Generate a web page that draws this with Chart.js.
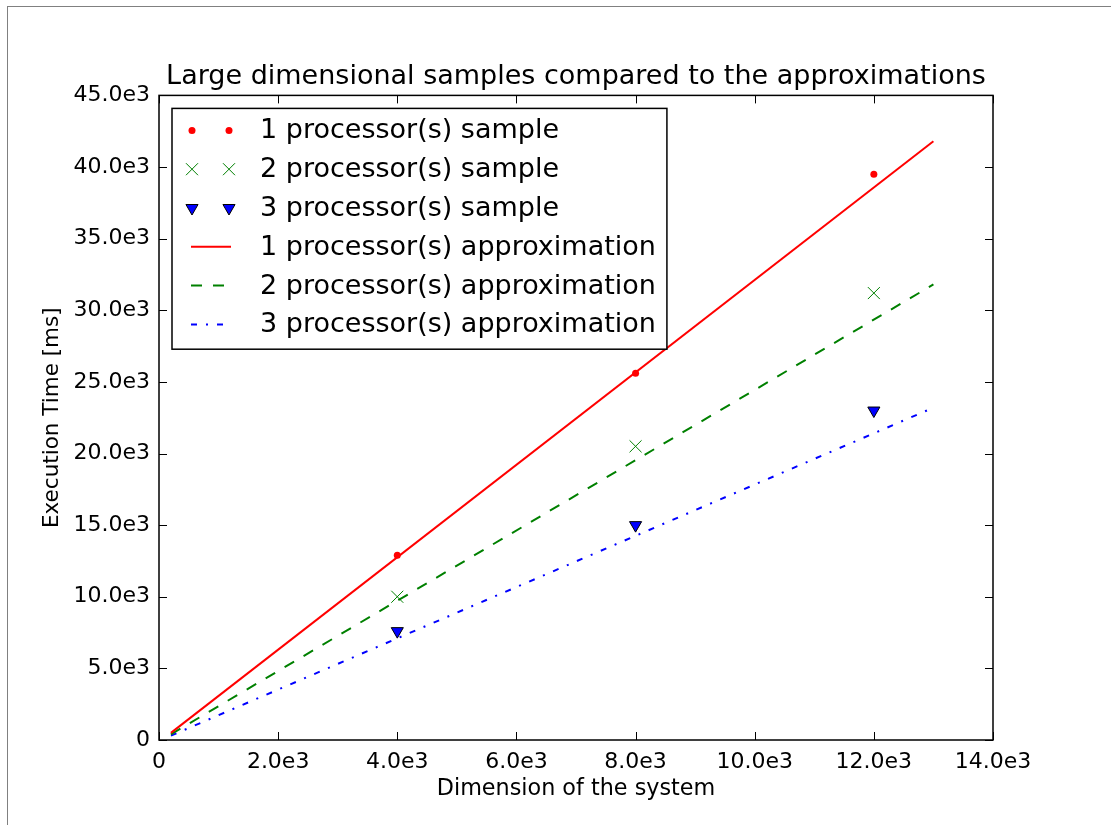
<!DOCTYPE html>
<html>
<head>
<meta charset="utf-8">
<script src="https://cdn.jsdelivr.net/npm/chart.js@4.4.1/dist/chart.umd.min.js"></script>
<style>
  body { margin: 0; background: #fff; }
  #frame { position: absolute; left: 7px; top: 6px; width: 1200px; height: 900px; border-left: 1px solid #808080; border-top: 1px solid #808080; }
  #wrap { position: absolute; left: 0; top: 0; width: 1111px; height: 825px; }
</style>
</head>
<body>
<div id="frame"></div>
<div id="wrap"><canvas id="myChart" width="1111" height="825"></canvas></div>
<script>
  const sampleDims = [4000, 8000, 12000];
  const samples1 = [12900, 25600, 39500];
  const samples2 = [10000, 20500, 31200];
  const samples3 = [7600, 15000, 23000];

  const approxDims = [200, 13000];
  const approx1 = [500, 41800];
  const approx2 = [400, 31800];
  const approx3 = [300, 23200];

  const xTicks = [0, 2000, 4000, 6000, 8000, 10000, 12000, 14000];
  const yTicks = [0, 5000, 10000, 15000, 20000, 25000, 30000, 35000, 40000, 45000];

  const FONT = "'DejaVu Sans', sans-serif";

  function pts(xs, ys) {
    return xs.map((x, i) => ({ x: x, y: ys[i] }));
  }

  function fmt(v) {
    return v === 0 ? '0' : (v / 1000).toFixed(1) + 'e3';
  }

  const data = {
    datasets: [
      { label: '1 processor(s) sample', data: pts(sampleDims, samples1), showLine: false,
        pointStyle: 'circle', pointRadius: 3.5, pointBackgroundColor: '#ff0000', pointBorderColor: '#ff0000', pointBorderWidth: 0 },
      { label: '2 processor(s) sample', data: pts(sampleDims, samples2), showLine: false,
        pointStyle: 'crossRot', pointRadius: 8.5, pointBorderColor: '#008000', pointBorderWidth: 1 },
      { label: '3 processor(s) sample', data: pts(sampleDims, samples3), showLine: false,
        pointStyle: 'triangle', pointRotation: 180, pointRadius: 7, pointBackgroundColor: '#0000ff', pointBorderColor: '#000000', pointBorderWidth: 1 },
      { label: '1 processor(s) approximation', data: pts(approxDims, approx1), showLine: true,
        borderColor: '#ff0000', borderWidth: 2, pointRadius: 0 },
      { label: '2 processor(s) approximation', data: pts(approxDims, approx2), showLine: true,
        borderColor: '#008000', borderWidth: 2, borderDash: [11, 11], pointRadius: 0 },
      { label: '3 processor(s) approximation', data: pts(approxDims, approx3), showLine: true,
        borderColor: '#0000ff', borderWidth: 2, borderDash: [6, 9, 2, 9], pointRadius: 0 }
    ]
  };

  // frame + inward ticks on all four sides, matplotlib style
  const frameTicks = {
    id: 'frameTicks',
    afterDatasetsDraw(chart) {
      const { ctx, chartArea: a, scales } = chart;
      const len = 8;
      ctx.save();
      ctx.strokeStyle = '#000';
      ctx.lineWidth = 1;
      ctx.beginPath();
      xTicks.forEach(v => {
        const px = Math.round(scales.x.getPixelForValue(v)) + 0.5;
        ctx.moveTo(px, a.bottom); ctx.lineTo(px, a.bottom - len);
        ctx.moveTo(px, a.top); ctx.lineTo(px, a.top + len);
      });
      yTicks.forEach(v => {
        const py = Math.round(scales.y.getPixelForValue(v)) + 0.5;
        ctx.moveTo(a.left, py); ctx.lineTo(a.left + len, py);
        ctx.moveTo(a.right, py); ctx.lineTo(a.right - len, py);
      });
      ctx.stroke();
      ctx.lineWidth = 1.5;
      ctx.strokeRect(a.left, a.top, a.right - a.left, a.bottom - a.top);
      ctx.restore();
    }
  };

  // legend drawn inside the axes, two markers per sample entry
  const boxLegend = {
    id: 'boxLegend',
    afterDraw(chart) {
      const { ctx, chartArea: a } = chart;
      const sets = chart.data.datasets;
      const x0 = a.left + 13, y0 = a.top + 13;
      const rowH = 38.8;
      ctx.save();
      ctx.font = '27px ' + FONT;
      let tw = 0;
      sets.forEach(d => { tw = Math.max(tw, ctx.measureText(d.label).width); });
      const w = 88 + tw + 11;
      const h = rowH * sets.length + 8;
      ctx.fillStyle = '#fff';
      ctx.fillRect(x0, y0, w, h);
      ctx.strokeStyle = '#000';
      ctx.lineWidth = 1.5;
      ctx.strokeRect(x0, y0, w, h);
      sets.forEach((d, i) => {
        const cy = y0 + 22 + i * rowH;
        if (d.showLine) {
          ctx.strokeStyle = d.borderColor;
          ctx.lineWidth = d.borderWidth;
          ctx.setLineDash(d.borderDash || []);
          ctx.beginPath();
          ctx.moveTo(x0 + 19, cy); ctx.lineTo(x0 + 59, cy);
          ctx.stroke();
          ctx.setLineDash([]);
        } else {
          [x0 + 20, x0 + 57].forEach(mx => {
            ctx.fillStyle = d.pointBackgroundColor || 'transparent';
            ctx.strokeStyle = d.pointBorderColor;
            ctx.lineWidth = d.pointBorderWidth;
            Chart.helpers.drawPoint(ctx, {
              pointStyle: d.pointStyle, radius: d.pointRadius,
              rotation: d.pointRotation || 0, borderWidth: d.pointBorderWidth
            }, mx, cy);
          });
        }
        ctx.fillStyle = '#000';
        ctx.textBaseline = 'middle';
        ctx.textAlign = 'left';
        ctx.fillText(d.label, x0 + 88, cy + 1);
      });
      ctx.restore();
    }
  };

  const config = {
    type: 'scatter',
    data: data,
    options: {
      responsive: false,
      animation: false,
      layout: { padding: { left: 0, right: 118, top: 0, bottom: 0 } },
      plugins: {
        legend: { display: false },
        tooltip: { enabled: false },
        title: {
          display: true,
          fullSize: false,
          text: 'Large dimensional samples compared to the approximations',
          color: '#000',
          font: { family: FONT, size: 27, weight: 'normal', lineHeight: 1.2 },
          padding: { top: 61, bottom: 2 }
        }
      },
      scales: {
        x: {
          type: 'linear', min: 0, max: 14000,
          afterBuildTicks(scale) { scale.ticks = xTicks.map(v => ({ value: v })); },
          afterFit(scale) { scale.height = 85; },
          grid: { display: false, drawTicks: false },
          border: { display: false },
          ticks: { color: '#000', padding: 9, maxRotation: 0, font: { family: FONT, size: 22 }, callback: v => fmt(v) },
          title: { display: true, text: 'Dimension of the system', color: '#000',
            font: { family: FONT, size: 22.3, lineHeight: 1.2 }, padding: { top: 0, bottom: 22 } }
        },
        y: {
          type: 'linear', min: 0, max: 45000,
          afterBuildTicks(scale) { scale.ticks = yTicks.map(v => ({ value: v })); },
          afterFit(scale) { scale.width = 159; },
          grid: { display: false, drawTicks: false },
          border: { display: false },
          ticks: { color: '#000', padding: 9, font: { family: FONT, size: 22 }, callback: v => fmt(v) },
          title: { display: true, text: 'Execution Time [ms]', color: '#000',
            font: { family: FONT, size: 21.5, lineHeight: 1.2 }, padding: { top: 40, bottom: 0 } }
        }
      }
    },
    plugins: [frameTicks, boxLegend]
  };

  const myChart = new Chart(
    document.getElementById('myChart'),
    config
  );
</script>
</body>
</html>
